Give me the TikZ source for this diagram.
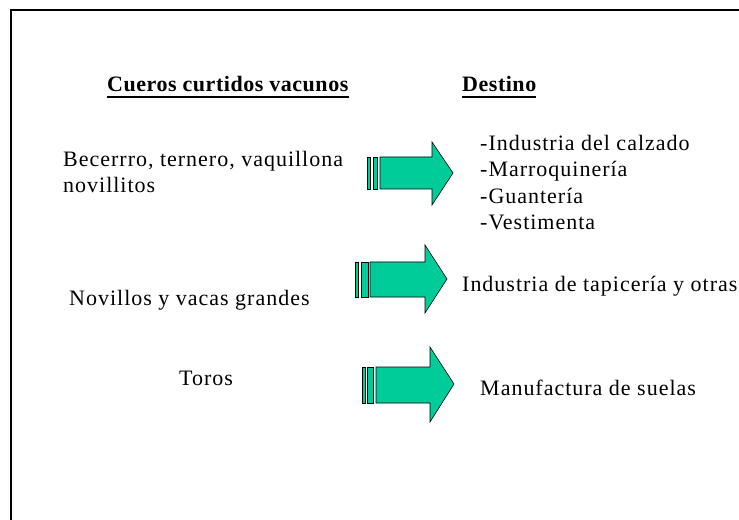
\documentclass[tikz,border=0pt]{standalone}
\usepackage{fontspec}
\setmainfont{Liberation Serif}[LetterSpace=4.5, BoldFeatures={LetterSpace=2.4}]
\usepackage{tikz}
\definecolor{verdeflecha}{RGB}{0,204,153}
\tikzset{
  font={\fontsize{22bp}{26.5bp}\selectfont},
  texto/.style={anchor=base west, inner sep=0pt, align=left},
  titulo/.style={texto, font={\fontsize{22bp}{26bp}\selectfont\bfseries}},
  raya/.style={line width=2bp},
  flecha/.style={fill=verdeflecha, draw=black, line width=0.6bp}}

\begin{document}
\begin{tikzpicture}[x=1bp, y=-1bp]
%% The page is 739 x 520, y grows downwards
	\useasboundingbox (0,0) rectangle (739,520);
%% Frame, only the top and left sides show
	\draw[raya] (739,10) -- (11,10) -- (11,520);
%% Headings
	\node[titulo] (cueros) at (107,92) {Cueros curtidos vacunos};
	\node[titulo] (destino) at (462,92) {Destino};
	\draw[raya] ([yshift=-5bp]cueros.base west) -- ([yshift=-5bp]cueros.base east);
	\draw[raya] ([yshift=-5bp]destino.base west) -- ([yshift=-5bp]destino.base east);
%% Kinds of hides (base of a two line node is its last line)
	\node[texto] (becerro) at (63,193) {Becerrro, ternero, vaquillona\\novillitos};
	\node[texto] (novillos) at (69,305) {Novillos y vacas grandes};
	\node[texto] (toros) at (179,385) {Toros};
%% Uses
	\node[texto] (calzado) at (480,230) {-Industria del calzado\\-Marroquinería\\-Guantería\\-Vestimenta};
	\node[texto] (tapiceria) at (462,292) {Industria de tapicería y otras};
	\node[texto] (suelas) at (480,395) {Manufactura de suelas};
%% Block arrows with two stripes behind
	\draw[flecha] (367,157) rectangle (370,189);
	\draw[flecha] (373,157) rectangle (377,189);
	\draw[flecha] (380,157) -- (432,157) -- (432,142) -- (453,173) -- (432,205) -- (432,189) -- (380,189) -- cycle;
	\draw[flecha] (355,262) rectangle (358,297);
	\draw[flecha] (361,262) rectangle (368,297);
	\draw[flecha] (370,262) -- (425,262) -- (425,245) -- (447,279) -- (425,313) -- (425,297) -- (370,297) -- cycle;
	\draw[flecha] (362,367) rectangle (365,403);
	\draw[flecha] (367,367) rectangle (373,403);
	\draw[flecha] (376,367) -- (430,367) -- (430,347) -- (454,384) -- (430,422) -- (430,403) -- (376,403) -- cycle;
\end{tikzpicture}
\end{document}
